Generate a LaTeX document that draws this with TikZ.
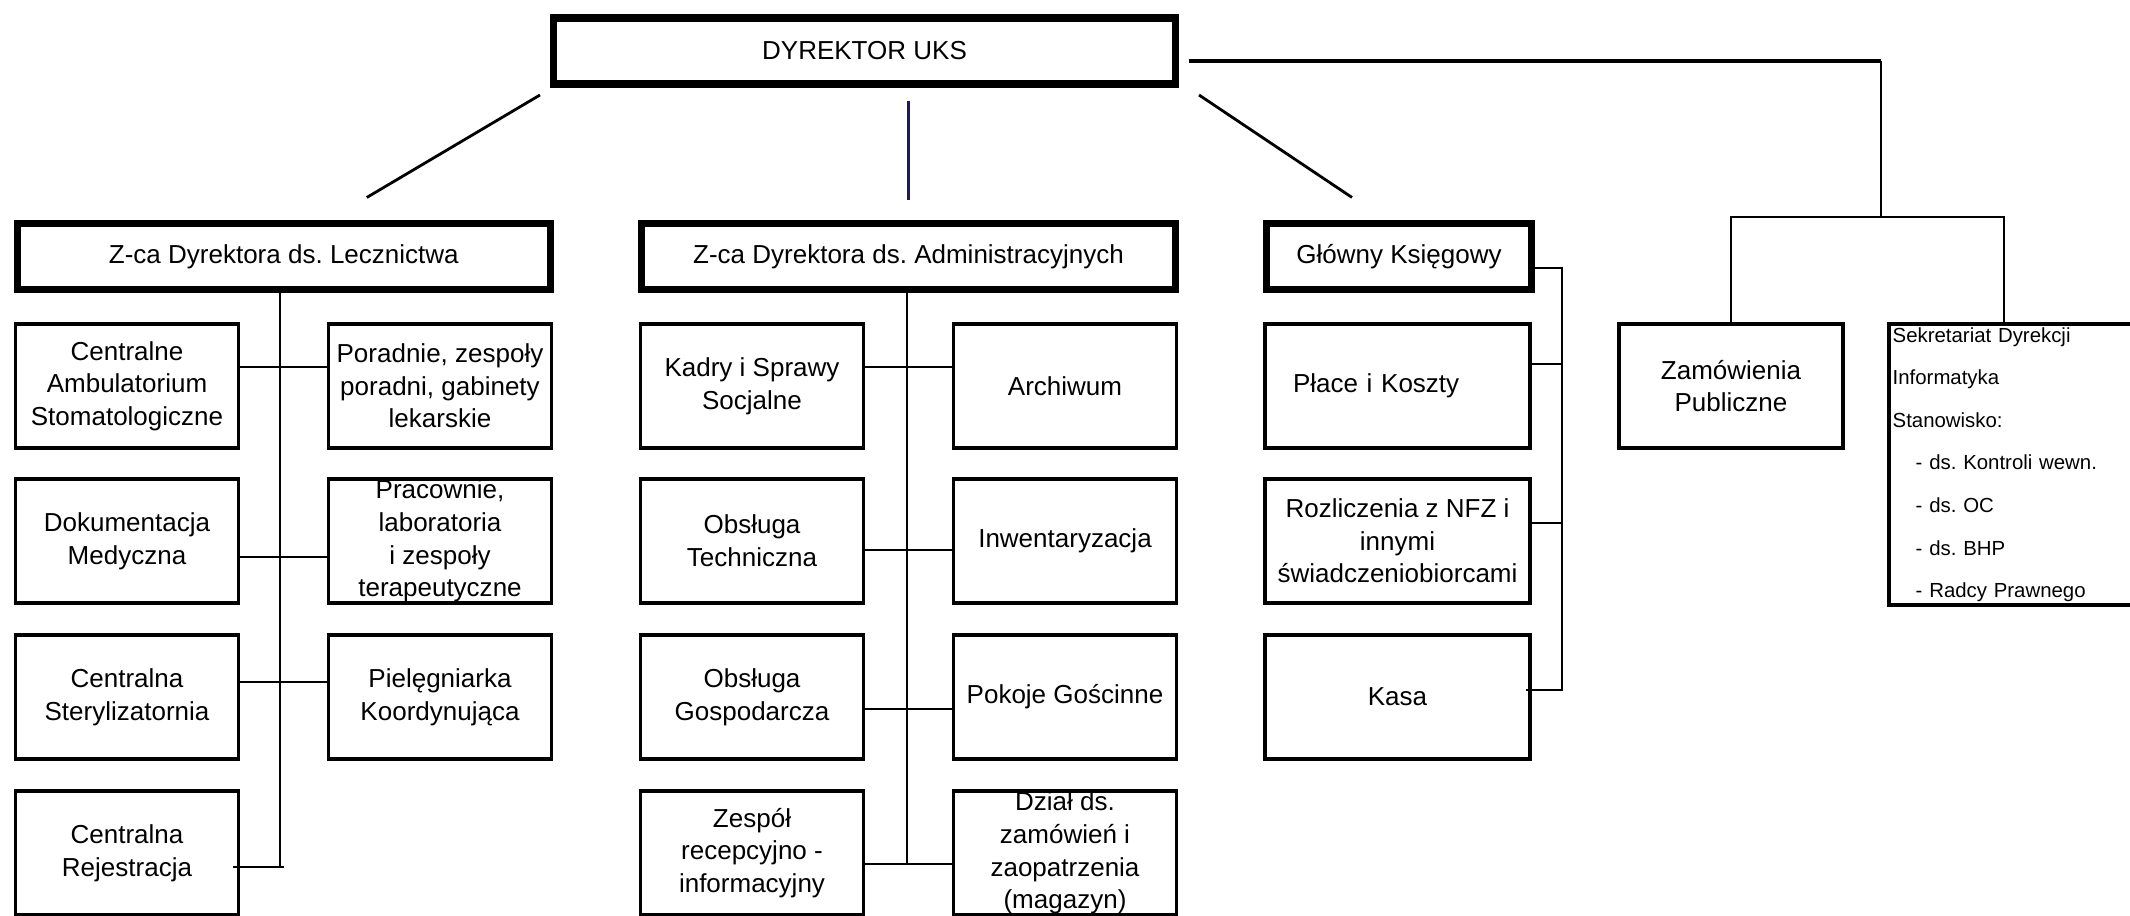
\documentclass[tikz,border=0pt]{standalone}
\usepackage{fontspec}
\setmainfont{Liberation Sans}
\frenchspacing
\definecolor{navyline}{RGB}{25,25,100}
\tikzset{
  headbox/.style={draw, line width=2pt, minimum height=0.66cm, inner sep=0pt, align=center},
  unitbox/.style={draw, line width=1.1pt, minimum width=2.23cm, minimum height=1.24cm, inner xsep=1pt, inner ysep=0pt, align=center},
  listbox/.style={minimum height=2.80cm, text width=2.3cm, inner xsep=0.03cm, inner ysep=0pt, align=left, font=\fontsize{5.8}{12.1}\selectfont},
  link/.style={line width=0.6pt},
  toplink/.style={line width=0.8pt}
}

\begin{document}
\begin{tikzpicture}[font=\fontsize{7.4}{9.3}\selectfont]
\useasboundingbox (0,0) rectangle (21.30,-9.16);

\node[headbox, minimum width=6.22cm] (dyr) at (8.645,-0.51) {DYREKTOR UKS};

\node[headbox, minimum width=5.33cm] (zcl) at (2.838,-2.565) {Z-ca Dyrektora ds. Lecznictwa};
\node[headbox, minimum width=5.34cm] (zca) at (9.085,-2.565) {Z-ca Dyrektora ds. Administracyjnych};
\node[headbox, minimum width=2.65cm] (gk) at (13.99,-2.565) {Główny Księgowy};

% pion lecznictwa
\node[unitbox] (cas) at (1.27,-3.86) {Centralne\\Ambulatorium\\Stomatologiczne};
\node[unitbox] (por) at (4.40,-3.86) {Poradnie, zespoły\\poradni, gabinety\\lekarskie};
\node[unitbox] (dm) at (1.27,-5.41) {Dokumentacja\\Medyczna};
\node[unitbox] (prac) at (4.40,-5.41) {Pracownie,\\laboratoria\\i zespoły\\terapeutyczne};
\node[unitbox] (cst) at (1.27,-6.97) {Centralna\\Sterylizatornia};
\node[unitbox] (piel) at (4.40,-6.97) {Pielęgniarka\\Koordynująca};
\node[unitbox] (crj) at (1.27,-8.53) {Centralna\\Rejestracja};

% pion administracyjny
\node[unitbox] (kadry) at (7.52,-3.86) {Kadry i Sprawy\\Socjalne};
\node[unitbox] (arch) at (10.65,-3.86) {Archiwum};
\node[unitbox] (otech) at (7.52,-5.41) {Obsługa\\Techniczna};
\node[unitbox] (inw) at (10.65,-5.41) {Inwentaryzacja};
\node[unitbox] (ogosp) at (7.52,-6.97) {Obsługa\\Gospodarcza};
\node[unitbox] (pokoje) at (10.65,-6.97) {Pokoje Gościnne};
\node[unitbox] (zrec) at (7.52,-8.53) {Zespół\\recepcyjno -\\informacyjny};
\node[unitbox] (dzial) at (10.65,-8.53) {Dział ds.\\zamówień i\\zaopatrzenia\\(magazyn)};

% pion ksiegowosci
\node[unitbox, minimum width=2.65cm, text width=2.09cm, inner xsep=0.28cm, align=left] (pk) at (13.975,-3.86) {Płace i Koszty};
\node[unitbox, minimum width=2.65cm] (rnfz) at (13.975,-5.41) {Rozliczenia z NFZ i\\innymi\\świadczeniobiorcami};
\node[unitbox, minimum width=2.65cm] (kasa) at (13.975,-6.97) {Kasa};

% stanowiska przy dyrektorze
\node[unitbox, minimum width=2.24cm] (zp) at (17.31,-3.86) {Zamówienia\\Publiczne};
\node[listbox, anchor=north west] (sd) at (18.89,-3.24) {Sekretariat Dyrekcji\\Informatyka\\Stanowisko:\\\hspace*{0.23cm}- ds. Kontroli wewn.\\\hspace*{0.23cm}- ds. OC\\\hspace*{0.23cm}- ds. BHP\\\hspace*{0.23cm}- Radcy Prawnego};
\coordinate (edge) at (21.30,0);
\draw[line width=1.1pt] (sd.north west -| edge) -- (sd.north west) -- (sd.south west) -- (sd.south west -| edge);% ramka ucieta z prawej

% polaczenia od dyrektora
\draw[toplink] ([shift={(-0.1,-0.075)}]dyr.south west) -- ([shift={(0.83,0.225)}]zcl.north);
\draw[toplink, draw=navyline] ([yshift=-0.13cm]zca.north |- dyr.south) -- ([yshift=0.195cm]zca.north);
\draw[toplink] ([shift={(0.2,-0.075)}]dyr.south east) -- ([shift={(-0.47,0.225)}]gk.north);

\coordinate (rt) at (18.81,-0.61);
\coordinate (rb) at (18.81,-2.17);
\draw[line width=1pt] ([shift={(0.1,-0.1)}]dyr.east) -- (rt);
\draw[link] (rt) -- (rb);
\draw[link] (zp.north) |- (rb) -| ([xshift=1.15cm]sd.north west);

% linie pionu lecznictwa
\coordinate (ls1) at (2.80,-3.67);
\coordinate (ls2) at (2.80,-5.57);
\coordinate (ls3) at (2.80,-6.82);
\coordinate (ls4) at (2.80,-8.67);
\draw[link] (zcl.south -| ls1) -- (ls4);
\draw[link] (cas.east |- ls1) -- (por.west |- ls1);
\draw[link] (dm.east |- ls2) -- (prac.west |- ls2);
\draw[link] (cst.east |- ls3) -- (piel.west |- ls3);
\draw[link] ([xshift=-0.07cm]crj.east |- ls4) -- ([xshift=0.04cm]ls4);

% linie pionu administracyjnego
\coordinate (ms1) at (9.07,-3.67);
\coordinate (ms2) at (9.07,-5.50);
\coordinate (ms3) at (9.07,-7.09);
\coordinate (ms4) at (9.07,-8.64);
\draw[link] (zca.south -| ms1) -- (ms4);
\draw[link] (kadry.east |- ms1) -- (arch.west |- ms1);
\draw[link] (otech.east |- ms2) -- (inw.west |- ms2);
\draw[link] (ogosp.east |- ms3) -- (pokoje.west |- ms3);
\draw[link] (zrec.east |- ms4) -- (dzial.west |- ms4);

% linie ksiegowosci
\coordinate (gs0) at (15.62,-2.68);
\coordinate (gs1) at (15.62,-3.64);
\coordinate (gs2) at (15.62,-5.23);
\coordinate (gs3) at (15.62,-6.90);
\draw[link] (gk.east |- gs0) -- (gs0) -- (gs3) -- ([xshift=-0.06cm]kasa.east |- gs3);
\draw[link] (pk.east |- gs1) -- (gs1);
\draw[link] (rnfz.east |- gs2) -- (gs2);
\end{tikzpicture}
\end{document}
